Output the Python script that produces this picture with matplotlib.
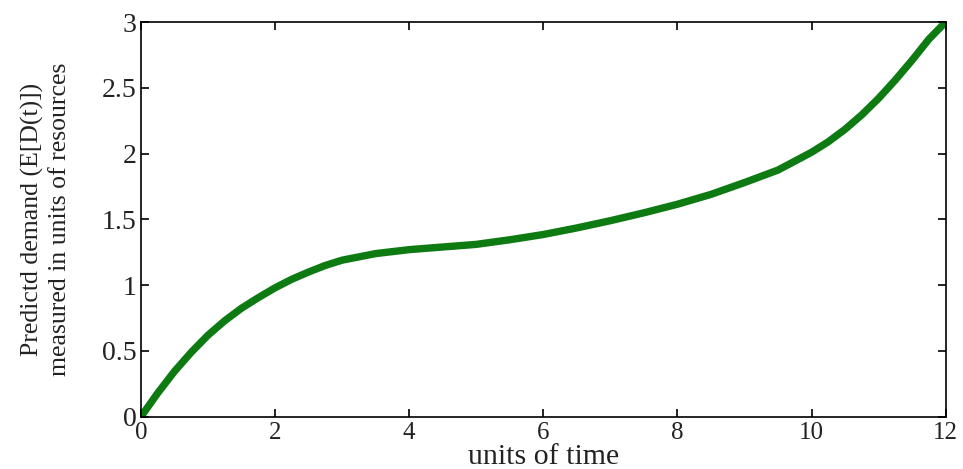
import matplotlib
matplotlib.use("Agg")
import matplotlib.pyplot as plt

# Data
time_units = [0, 0.25, 0.5, 0.75, 1, 1.25, 1.5, 1.75, 2, 2.25, 2.5, 2.75, 3,
              3.5, 4, 4.5, 5, 5.5, 6, 6.5, 7, 7.5, 8, 8.5, 9, 9.5,
              10, 10.25, 10.5, 10.75, 11, 11.25, 11.5, 11.75, 12]
demand = [0.0, 0.18, 0.345, 0.49, 0.62, 0.73, 0.825, 0.905, 0.98, 1.045, 1.10, 1.15, 1.19,
          1.24, 1.27, 1.29, 1.31, 1.345, 1.385, 1.435, 1.49, 1.55, 1.615, 1.69, 1.78, 1.875,
          2.01, 2.09, 2.185, 2.295, 2.42, 2.56, 2.71, 2.87, 3.0]

x_ticks = [0, 2, 4, 6, 8, 10, 12]
y_ticks = [0, 0.5, 1, 1.5, 2, 2.5, 3]
y_tick_labels = ["0", "0.5", "1", "1.5", "2", "2.5", "3"]

plt.rcParams['font.family'] = ['Liberation Serif', 'DejaVu Serif']

fig = plt.figure(figsize=(9.63, 4.69), dpi=100)
ax = fig.add_axes([0.1464, 0.1115, 0.8356, 0.8415])

ax.plot(time_units, demand, color='#0e7a12', lw=5.3, solid_joinstyle='round',
        solid_capstyle='butt', clip_on=True)

ax.set_xlim(0, 12)
ax.set_ylim(0, 3)
ax.set_xticks(x_ticks)
ax.set_xticklabels([str(v) for v in x_ticks])
ax.set_yticks(y_ticks)
ax.set_yticklabels(y_tick_labels)

ax.tick_params(direction='in', length=6, width=1.2, top=True, right=True,
               colors='black', labelcolor='#222222')
ax.tick_params(axis='x', pad=4, labelsize=18)
ax.tick_params(axis='y', pad=3, labelsize=20)
for s in ax.spines.values():
    s.set_linewidth(1.2)
    s.set_color('black')

ax.set_xlabel('units of time', fontsize=21.5, color='#222222', va='baseline')
ax.xaxis.set_label_coords(0.5, -0.12)
ax.set_ylabel('Predictd demand (E[D(t)])\nmeasured in units of resources',
              fontsize=18.5, linespacing=1.3, color='#222222')
ax.yaxis.set_label_coords(-0.087, 0.5)

fig.savefig('out.png', dpi=100, facecolor='white')
